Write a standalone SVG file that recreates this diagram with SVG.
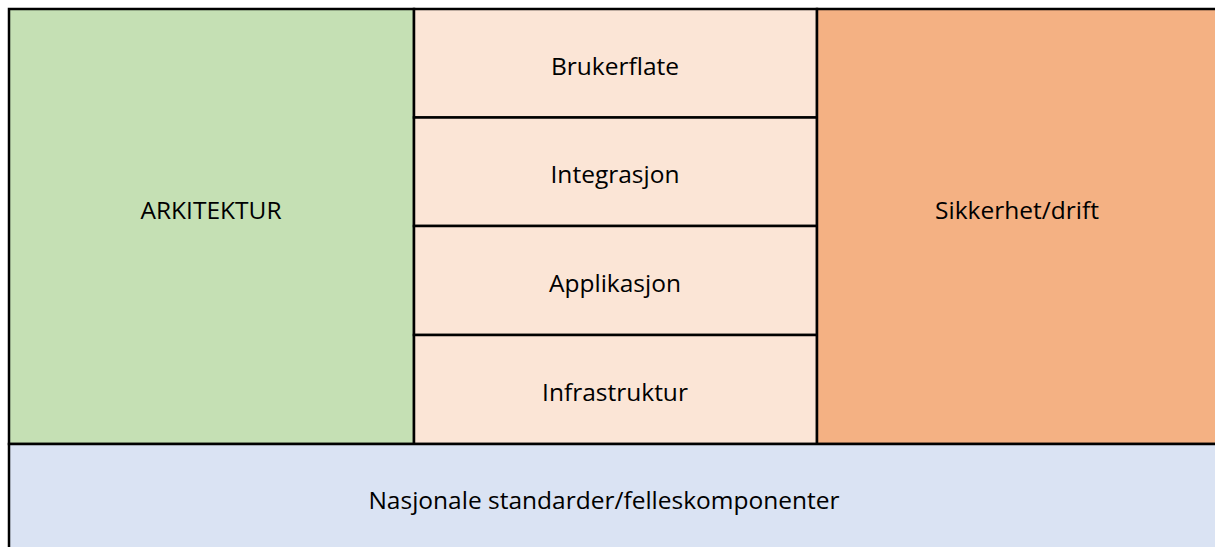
<svg xmlns="http://www.w3.org/2000/svg" width="1215" height="547" viewBox="0 0 1215 547">
<style>
.box{stroke:#000;stroke-width:2.5}
.t{font-family:"Open Sans","Liberation Sans",sans-serif;font-size:24.5px;fill:#000;text-anchor:middle}
</style>
<rect width="1215" height="547" fill="#fff"/>
<g id="arkitektur"><rect class="box" x="9" y="9" width="405" height="435" fill="#C5E0B4"/><text class="t" x="211" y="219">ARKITEKTUR</text></g>
<g id="brukerflate"><rect class="box" x="414" y="9" width="403" height="108.5" fill="#FBE5D6"/><text class="t" x="615" y="75">Brukerflate</text></g>
<g id="integrasjon"><rect class="box" x="414" y="117.5" width="403" height="108.5" fill="#FBE5D6"/><text class="t" x="615" y="183">Integrasjon</text></g>
<g id="applikasjon"><rect class="box" x="414" y="226" width="403" height="109" fill="#FBE5D6"/><text class="t" x="615" y="292">Applikasjon</text></g>
<g id="infrastruktur"><rect class="box" x="414" y="335" width="403" height="109" fill="#FBE5D6"/><text class="t" x="615" y="401">Infrastruktur</text></g>
<g id="sikkerhet"><rect class="box" x="817" y="9" width="410" height="435" fill="#F4B183"/><text class="t" x="1017" y="219">Sikkerhet/drift</text></g>
<g id="nasjonale"><rect class="box" x="9" y="444" width="1218" height="120" fill="#DAE3F3"/><text class="t" x="604" y="509">Nasjonale standarder/felleskomponenter</text></g>
<g id="connectors"/>
</svg>
